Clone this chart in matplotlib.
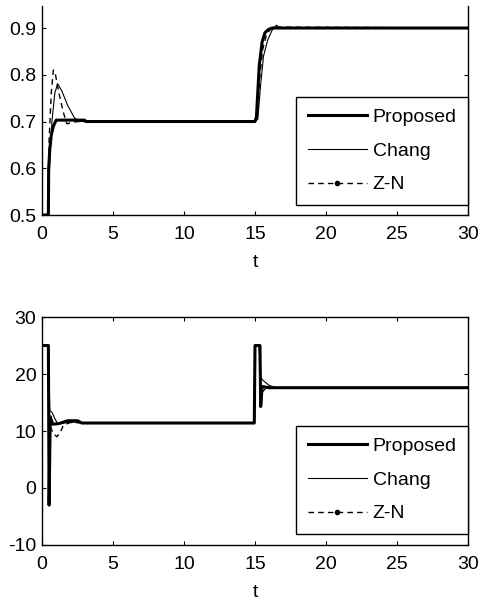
import matplotlib.pyplot as plt
from matplotlib import font_manager
from matplotlib.lines import Line2D

# the reference text is tall and narrow, so prefer the narrow Arial clone
names = {f.name for f in font_manager.fontManager.ttflist}
if "Liberation Sans Narrow" in names:
    plt.rcParams['font.family'] = ['Liberation Sans Narrow', 'DejaVu Sans']
    fs = 15.5
else:
    plt.rcParams['font.family'] = ['Liberation Sans', 'DejaVu Sans']
    fs = 14
plt.rcParams['axes.unicode_minus'] = False

# output y(t)
t_prop_y = [0, 0.45, 0.47, 0.55, 0.65, 0.8, 1.0, 3.0, 3.1, 15.0, 15.1, 15.3, 15.5, 15.7, 15.95, 16.2, 30]
y_prop = [0.5, 0.5, 0.60, 0.64, 0.67, 0.69, 0.703, 0.703, 0.700, 0.700, 0.71, 0.82, 0.87, 0.89, 0.897, 0.900, 0.900]

t_chang_y = [0, 0.45, 0.55, 0.7, 0.9, 1.1, 1.4, 1.8, 2.3, 2.7, 15.0, 15.2, 15.4, 15.6, 15.9, 16.2, 16.5, 16.8, 30]
y_chang = [0.5, 0.5, 0.62, 0.70, 0.76, 0.781, 0.765, 0.735, 0.707, 0.700, 0.700, 0.705, 0.78, 0.84, 0.875, 0.895, 0.906, 0.900, 0.900]

t_zn_y = [0, 0.4, 0.5, 0.65, 0.8, 0.95, 1.2, 1.5, 1.75, 2.0, 2.5, 15.0, 15.15, 15.35, 15.55, 15.8, 16.1, 16.4, 30]
y_zn = [0.5, 0.5, 0.66, 0.76, 0.81, 0.80, 0.76, 0.72, 0.695, 0.697, 0.70, 0.70, 0.71, 0.80, 0.855, 0.885, 0.898, 0.902, 0.900]

# control signal u(t), lower panel
t_prop_u = [0, 0.45, 0.5, 0.58, 0.75, 1.2, 1.8, 2.5, 2.8, 14.95, 15.0, 15.35, 15.4, 15.5, 16.0, 30]
u_prop = [25, 25, -3, 12.5, 11.2, 11.3, 11.8, 11.8, 11.4, 11.4, 25, 25, 14.3, 17.8, 17.6, 17.6]

t_chang_u = [0, 0.45, 0.55, 0.7, 0.9, 1.1, 1.5, 2.5, 3.0, 14.95, 15.0, 15.3, 15.35, 15.6, 16.0, 16.5, 30]
u_chang = [25, 25, 13.5, 13.3, 12.2, 11.3, 11.4, 11.6, 11.4, 11.4, 25, 25, 19.5, 18.8, 18.0, 17.6, 17.6]

t_zn_u = [0, 0.45, 0.55, 0.8, 1.05, 1.3, 1.5, 2.0, 3.0, 14.95, 15.0, 15.3, 15.35, 15.5, 15.8, 30]
u_zn = [25, 25, 11, 9.5, 9.0, 9.8, 11.0, 11.5, 11.4, 11.4, 25, 25, 16.5, 16.8, 17.6, 17.6]

labels = ["Proposed", "Chang", "Z-N"]
xticks = [0, 5, 10, 15, 20, 25, 30]

fig = plt.figure(figsize=(4.81, 6.05), dpi=100)
ax1 = fig.add_axes([0.0873, 0.6446, 0.8857, 0.3454])
ax2 = fig.add_axes([0.0873, 0.0992, 0.8857, 0.3768])


def style(ax):
    for sp in ax.spines.values():
        sp.set_linewidth(1.0)
    ax.set_xlim(0, 30)
    ax.set_xticks(xticks)
    ax.tick_params(direction='in', length=3, width=0.8, labelsize=fs,
                   top=True, right=True)
    ax.tick_params(axis='x', pad=8)
    ax.tick_params(axis='y', pad=4)
    ax.set_xlabel("t", fontsize=fs, labelpad=7.5)


def add_legend(ax):
    handles = [
        Line2D([], [], color='black', lw=2.2),
        Line2D([], [], color='black', lw=0.8),
        Line2D([], [], color='black', lw=1.0, dashes=(4, 3), marker='.', markersize=6),
    ]
    leg = ax.legend(handles, labels, loc='lower left', bbox_to_anchor=(0.596, 0.048, 0.404, 0.5),
                    mode='expand', borderaxespad=0, fontsize=fs, handlelength=3.05,
                    handletextpad=0.3, labelspacing=0.82, borderpad=0.6, numpoints=1,
                    fancybox=False, framealpha=1, edgecolor='black')
    leg.get_frame().set_linewidth(1.0)


ax1.plot(t_zn_y, y_zn, color='black', lw=1.0, dashes=(4, 3))
ax1.plot(t_chang_y, y_chang, color='black', lw=0.8)
ax1.plot(t_prop_y, y_prop, color='black', lw=2.2)
style(ax1)
ax1.set_ylim(0.5, 0.947)
ax1.set_yticks([0.5, 0.6, 0.7, 0.8, 0.9])
ax1.spines['top'].set_visible(False)
ax1.tick_params(top=False)
add_legend(ax1)

ax2.plot(t_zn_u, u_zn, color='black', lw=1.0, dashes=(4, 3))
ax2.plot(t_chang_u, u_chang, color='black', lw=0.8)
ax2.plot(t_prop_u, u_prop, color='black', lw=2.2)
style(ax2)
ax2.set_ylim(-10, 30)
ax2.set_yticks([-10, 0, 10, 20, 30])
add_legend(ax2)

fig.savefig("out.png", dpi=100)
